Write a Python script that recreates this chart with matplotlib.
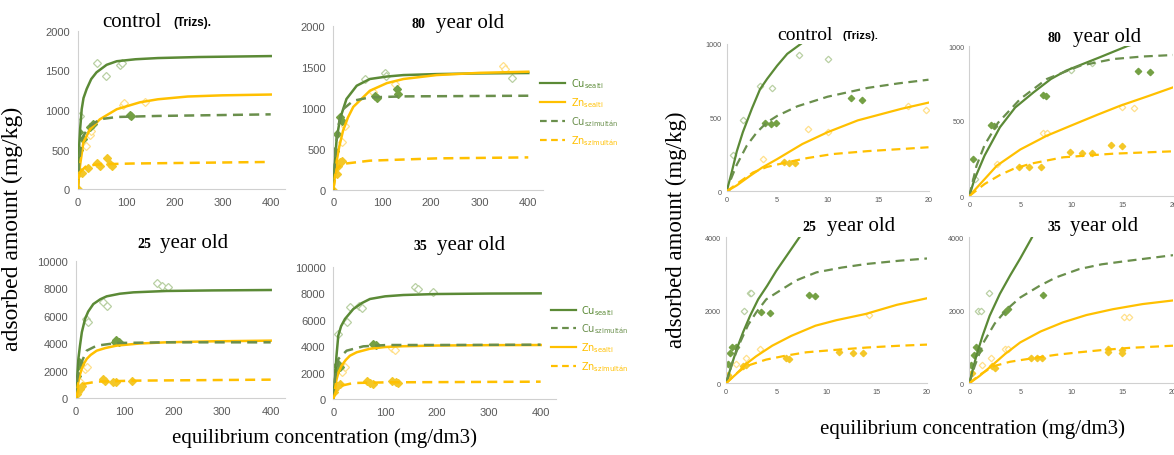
import matplotlib
matplotlib.use("Agg")
import matplotlib.pyplot as plt
from matplotlib.lines import Line2D

W, H = 1174, 456

# ---- left block (0-400 mg/dm3) ----
# control
Lctrl_cu_s = [(0,0),(1.5,300),(3.4,590),(5,760),(8.3,1010),(12,1150),(18.6,1265),(28,1390),(39,1475),(60,1570),(81,1615),(120,1640),(166,1655),(250,1668),(400,1680)]
Lctrl_cu_s_pts = [(4.5,925),(39,1590),(59,1425),(88,1565),(91,1590)]
Lctrl_zn_s = [(0,0),(4.8,298),(11.7,592),(25.5,757),(46,883),(81,1010),(129,1097),(166,1135),(228,1170),(300,1185),(400,1195)]
Lctrl_zn_s_pts = [(17,550),(25,680),(27,735),(93,1060),(96,1085),(140,1095)]
Lctrl_cu_m = [(0,0),(3.4,380),(8.3,634),(22,782),(46,883),(81,912),(166,925),(400,945)]
Lctrl_cu_m_pts = [(1,240),(3,500),(3.4,720),(11.7,630),(25,790),(32,820),(108,935),(110,920)]
Lctrl_zn_m = [(0,0),(3.4,210),(18.6,298),(46,315),(112,325),(400,345)]
Lctrl_zn_m_pts = [(0,0),(3.4,210),(8.3,210),(22,273),(39,336),(46,294),(60,400),(67,315),(71,294)]

# 80 year old
L80_cu_s = [(0,0),(3,300),(6.8,618),(13.7,862),(27,1106),(48,1268),(75,1350),(110,1380),(144,1398),(212,1410),(300,1418),(400,1423)]
L80_cu_s_pts = [(65,1350),(106,1423),(109,1390),(366,1358)]
L80_zn_s = [(0,0),(3,150),(7,350),(12,520),(20,720),(30,880),(41,1010),(75,1207),(110,1300),(144,1350),(212,1398),(300,1425),(400,1439)]
L80_zn_s_pts = [(17,577),(24,780),(82,1187),(126,1289),(349,1512),(352,1472)]
L80_cu_m = [(0,0),(4.8,496),(10,780),(20.5,984),(41,1085),(75,1126),(144,1138),(400,1146)]
L80_cu_m_pts = [(1.4,252),(3.4,476),(6.8,679),(13.7,882),(17,841),(85,1146),(89,1114),(130,1228),(133,1167)]
L80_zn_m = [(0,0),(6.8,252),(17,313),(75,354),(212,382),(400,394)]
L80_zn_m_pts = [(0,0),(3.4,293),(6.8,191),(10,293),(13.7,333),(17,354)]

# 25 year old
L25_cu_s = [(0,0),(1,600),(2.7,1650),(5,2900),(8.2,3830),(12,4800),(18.5,5760),(25,6300),(35.6,6850),(50,7200),(63,7410),(90,7600),(118,7700),(186,7800),(280,7840),(400,7870)]
L25_cu_s_pts = [(20.5,5760),(25,5520),(55,7020),(63,6730),(166,8380),(176,8180),(190,8060)]
L25_cu_m = [(0,0),(2.7,1404),(8.2,2373),(22,3462),(42.5,3826),(83.6,4019),(186,4068),(400,4068)]
L25_cu_m_pts = [(0,436),(2.7,1646),(4.8,2373),(6.8,2615),(8.2,2494),(80,4116),(83,4261),(89,4068)]
L25_zn_s = [(0,0),(2,500),(4.8,1160),(8,1700),(11.6,2130),(16,2500),(22,2860),(30,3150),(42.5,3460),(60,3650),(83.6,3830),(130,3980),(186,4070),(280,4140),(400,4190)]
L25_zn_s_pts = [(1.4,920),(4.8,436),(8.2,1162),(18.5,2131),(23,2252)]
L25_zn_m = [(0,0),(4.8,678),(15,1041),(42.5,1211),(118,1283),(400,1356)]
L25_zn_m_pts = [(1.4,315),(8.2,678),(11.6,920),(55,1404),(59.6,1235),(76.7,1211),(82,1162),(116,1283)]

# 35 year old
L35_cu_s = [(0,0),(1,500),(3.2,1510),(6,3200),(9.6,4790),(15,5500),(22.5,6050),(38.6,6800),(55,7250),(70.7,7560),(100,7760),(135,7860),(199,7935),(300,7970),(400,7985)]
L35_cu_s_pts = [(9.6,4912),(25.7,5793),(32,6927),(50,7000),(54.7,6851),(157.6,8438),(164,8312),(193,8110)]
L35_cu_m = [(0,0),(3.2,1511),(9.6,3023),(25.7,3652),(57.9,3980),(103,4081),(199,4081),(400,4106)]
L35_cu_m_pts = [(1.3,756),(3.2,2015),(6.4,2519),(9.6,2645),(12.9,2393),(77,4156),(82,4081)]
L35_zn_s = [(0,0),(3,700),(6.4,1510),(10,2000),(16,2520),(24,2950),(32,3270),(45,3530),(70.7,3800),(100,3930),(135,3990),(200,4040),(300,4070),(400,4080)]
L35_zn_s_pts = [(3.2,756),(16,2015),(22.5,2393),(112.5,3829),(119,3728)]
L35_zn_m = [(0,0),(6.4,756),(16,1008),(38.6,1209),(103,1259),(400,1310)]
L35_zn_m_pts = [(1.9,504),(6.4,1008),(12.9,1134),(64.3,1385),(70.7,1209),(77,1134),(112.5,1385),(121,1259),(125,1209)]

# ---- right block (0-20 mg/dm3, zoomed) ----
Rctrl_cu_s = [(0,0),(0.5,130),(1,270),(1.6,400),(2.5,560),(3.3,690),(4,760),(5,850),(6,930),(7.4,1000),(8,1040)]
Rctrl_cu_s_pts = [(0.65,245),(1.6,485),(3.3,714),(4.5,700),(7.2,925),(10,898)]
Rctrl_cu_m = [(0.4,80),(1,180),(2,310),(3,400),(4,467),(5,510),(7,575),(10,640),(14,700),(17,730),(20,755)]
Rctrl_cu_m_pts = [(3.8,463),(4.4,456),(4.9,463),(12.3,630),(13.4,615)]
Rctrl_zn_s = [(0,0),(1,40),(2.3,104),(3.5,160),(5,218),(7.5,320),(10,400),(13,480),(17.3,558),(20,600)]
Rctrl_zn_s_pts = [(3.6,218),(8.1,422),(10,400),(18,578),(19.8,551)]
Rctrl_zn_m = [(0,0),(1,50),(2.6,127),(4,165),(5.9,195),(8,225),(10.5,252),(14,272),(17.3,286),(20,298)]
Rctrl_zn_m_pts = [(0,0),(5.7,195),(6.2,190),(6.8,190)]

R80_cu_s = [(0,0),(0.5,110),(1.5,270),(3,458),(4.5,590),(6.3,691),(8,780),(9.5,836),(12.8,925),(15.5,1000),(16,1010)]
R80_cu_s_pts = [(0.55,111),(10,840),(12,890)]
R80_cu_m = [(0,0),(0.7,200),(1.5,340),(2.8,487),(5,647),(7.6,780),(10.9,869),(14.1,913),(17,930),(20,940)]
R80_cu_m_pts = [(0.36,247),(2.1,473),(2.4,469),(7.2,673),(7.5,669),(16.5,835),(17.7,824)]
R80_zn_s = [(0,0),(1,75),(2.7,202),(5,310),(7.6,402),(10,470),(12.5,540),(14.8,602),(17.5,665),(20,725)]
R80_zn_s_pts = [(2.7,215),(7.2,422),(7.6,420),(15,594),(16.1,589)]
R80_zn_m = [(0,0),(1.5,80),(3,140),(4.3,180),(6,215),(9.2,258),(12,272),(14.1,282),(17,290),(20,298)]
R80_zn_m_pts = [(4.9,193),(5.9,193),(7,193),(9.9,293),(11,289),(12,289),(13.9,338),(15,331)]

R25_cu_s = [(0,0),(0.5,450),(1.07,940),(1.7,1400),(2.4,1852),(3.2,2300),(4.1,2674),(5,3080),(6,3480),(7.3,4000),(7.6,4100)]
R25_cu_s_pts = [(1.8,1973),(2.4,2470),(2.5,2470)]
R25_cu_m = [(0,0),(0.25,210),(0.7,620),(1.4,1120),(2.2,1600),(3,1940),(4,2300),(5.6,2580),(7,2820),(9,3040),(11.5,3170),(14,3270),(17.3,3360),(20,3420)]
R25_cu_m_pts = [(0.23,520),(0.4,820),(0.57,1000),(1,1000),(3.5,1960),(4.4,1930),(8.3,2420),(8.9,2400)]
R25_zn_s = [(0,0),(1,250),(2,530),(3,740),(4.6,1030),(6.5,1300),(8.9,1578),(11,1730),(13.9,1900),(17,2150),(20,2330)]
R25_zn_s_pts = [(1,520),(2,690),(3.4,940),(14.2,1880)]
R25_zn_m = [(0,0),(1,260),(2,470),(4,650),(6,760),(8,850),(10.6,910),(14,980),(17.3,1030),(20,1060)]
R25_zn_m_pts = [(0.23,240),(1.7,480),(2,500),(6,680),(6.3,670),(11.2,850),(12.6,820),(13.6,820)]

R35_cu_s = [(0,0),(0.7,760),(1.3,1300),(2,1850),(3,2450),(4,2950),(5,3420),(6.1,3970),(6.3,4080)]
R35_cu_s_pts = [(0.85,1990),(1.1,1990),(1.9,2470)]
R35_cu_m = [(0,0),(0.5,450),(1.4,1120),(2.5,1640),(3.7,2030),(5,2350),(6.9,2670),(8.5,2900),(10.8,3130),(13,3260),(15.7,3360),(20,3510)]
R35_cu_m_pts = [(0.2,510),(0.5,780),(0.7,1000),(1,920),(3.5,1950),(3.8,2030),(7.2,2420)]
R35_zn_s = [(0,0),(1,200),(2.4,530),(3.5,800),(5,1120),(7,1420),(9.2,1670),(11.5,1870),(14.1,2030),(17,2170),(20,2270)]
R35_zn_s_pts = [(1.2,500),(2.1,700),(3.5,930),(3.8,930),(15.2,1830),(15.7,1830)]
R35_zn_m = [(0,0),(1,230),(2.4,470),(4,590),(6.3,690),(8.5,780),(10.8,850),(13,910),(15.7,970),(20,1030)]
R35_zn_m_pts = [(0,250),(0.3,280),(2.2,480),(2.5,420),(6.1,690),(6.6,690),(7.1,690),(13.6,870),(13.6,950),(15,830),(15,900)]

legend_top = ["Cu$_{\\rm sealti}$", "Zn$_{\\rm sealti}$", "Cu$_{\\rm szimultán}$", "Zn$_{\\rm szimultán}$"]
legend_bot = ["Cu$_{\\rm sealti}$", "Cu$_{\\rm szimultán}$", "Zn$_{\\rm sealti}$", "Zn$_{\\rm szimultán}$"]

CU = "#5b8a36"
CU_D = "#6a8f4c"
ZN = "#ffc000"
CU_OPEN = "#b9d0a3"
ZN_OPEN = "#ffe08a"
SERIF = "Liberation Serif"


def pos(x0, x1, ytop, ybot):
    return [x0 / W, 1 - ybot / H, (x1 - x0) / W, (ybot - ytop) / H]


def panel(rect, cu_s, cu_s_pts, zn_s, zn_s_pts, cu_m, cu_m_pts, zn_m, zn_m_pts,
          xmax, xticks, ymax, yticks, fs, lw, ms):
    ax = fig.add_axes(rect)
    # markers: open = single, filled = simultaneous
    for pts, col, fill in [(cu_s_pts, CU_OPEN, False), (zn_s_pts, ZN_OPEN, False),
                           (cu_m_pts, "#74a044", True), (zn_m_pts, "#f4c727", True)]:
        xs = [p[0] for p in pts]; ys = [p[1] for p in pts]
        ax.plot(xs, ys, "D", ms=ms, mec=col, mfc=col if fill else "white",
                mew=0.9, ls="none", zorder=2)
    for line, col, ls in [(cu_s, CU, "-"), (zn_s, ZN, "-"),
                          (cu_m, CU_D, (0, (4, 2.5))), (zn_m, ZN, (0, (4, 2.5)))]:
        ax.plot([p[0] for p in line], [p[1] for p in line], color=col, lw=lw, ls=ls, zorder=3)
    ax.set_xlim(0, xmax); ax.set_ylim(0, ymax)
    ax.set_xticks(xticks); ax.set_yticks(yticks)
    for s in ["top", "right"]:
        ax.spines[s].set_visible(False)
    for s in ["left", "bottom"]:
        ax.spines[s].set_color("#d0d0d0"); ax.spines[s].set_linewidth(0.8)
    ax.tick_params(length=0, labelsize=fs, colors="#595959", pad=fs * 0.7)
    for t in ax.get_xticklabels() + ax.get_yticklabels():
        t.set_fontfamily("Liberation Sans")
    return ax


fig = plt.figure(figsize=(W / 100, H / 100), dpi=100)

xl = [0, 100, 200, 300, 400]
panel(pos(77.7, 285.2, 31.7, 190.3), Lctrl_cu_s, Lctrl_cu_s_pts, Lctrl_zn_s, Lctrl_zn_s_pts,
      Lctrl_cu_m, Lctrl_cu_m_pts, Lctrl_zn_m, Lctrl_zn_m_pts, 430, xl, 2000, [0, 500, 1000, 1500, 2000], 8, 1.8, 3.6)
panel(pos(333.3, 542.9, 26.7, 190.7), L80_cu_s, L80_cu_s_pts, L80_zn_s, L80_zn_s_pts,
      L80_cu_m, L80_cu_m_pts, L80_zn_m, L80_zn_m_pts, 430, xl, 2000, [0, 500, 1000, 1500, 2000], 8, 1.8, 3.6)
panel(pos(76, 285.3, 261.7, 399.3), L25_cu_s, L25_cu_s_pts, L25_zn_s, L25_zn_s_pts,
      L25_cu_m, L25_cu_m_pts, L25_zn_m, L25_zn_m_pts, 430, xl, 10000, [0, 2000, 4000, 6000, 8000, 10000], 8, 1.8, 3.6)
panel(pos(333.3, 556.2, 267.7, 400), L35_cu_s, L35_cu_s_pts, L35_zn_s, L35_zn_s_pts,
      L35_cu_m, L35_cu_m_pts, L35_zn_m, L35_zn_m_pts, 430, xl, 10000, [0, 2000, 4000, 6000, 8000, 10000], 8, 1.8, 3.6)

xr = [0, 5, 10, 15, 20]
panel(pos(726.7, 928.5, 44.5, 192.3), Rctrl_cu_s, Rctrl_cu_s_pts, Rctrl_zn_s, Rctrl_zn_s_pts,
      Rctrl_cu_m, Rctrl_cu_m_pts, Rctrl_zn_m, Rctrl_zn_m_pts, 20, xr, 1000, [0, 500, 1000], 5.2, 1.6, 3.3)
panel(pos(969.3, 1173.3, 47, 197), R80_cu_s, R80_cu_s_pts, R80_zn_s, R80_zn_s_pts,
      R80_cu_m, R80_cu_m_pts, R80_zn_m, R80_zn_m_pts, 20, xr, 1000, [0, 500, 1000], 5.2, 1.6, 3.3)
panel(pos(726, 927, 238.3, 384.3), R25_cu_s, R25_cu_s_pts, R25_zn_s, R25_zn_s_pts,
      R25_cu_m, R25_cu_m_pts, R25_zn_m, R25_zn_m_pts, 20, xr, 4000, [0, 2000, 4000], 5.2, 1.6, 3.3)
panel(pos(969.3, 1173, 238.3, 384.3), R35_cu_s, R35_cu_s_pts, R35_zn_s, R35_zn_s_pts,
      R35_cu_m, R35_cu_m_pts, R35_zn_m, R35_zn_m_pts, 20, xr, 4000, [0, 2000, 4000], 5.2, 1.6, 3.3)


def title(xnum, xword, y, num, word, fnum, fword, bold_num=True):
    fig.text(xnum / W, 1 - y / H, num, family=SERIF, fontsize=fnum,
             weight="bold" if bold_num else "normal", va="baseline", ha="left")
    fig.text(xword / W, 1 - y / H, word, family=SERIF, fontsize=fword, va="baseline", ha="left")


# titles, left block
fig.text(102 / W, 1 - 27 / H, "control", family=SERIF, fontsize=15, va="baseline")
fig.text(173 / W, 1 - 26 / H, "(Trizs).", family="Liberation Sans", fontsize=8.5, weight="bold", va="baseline")
title(412, 436, 28, "80", "year old", 10, 15)
title(137, 160, 248, "25", "year old", 10, 15)
title(413, 437, 250, "35", "year old", 10, 15)
# titles, right block
fig.text(777 / W, 1 - 40 / H, "control", family=SERIF, fontsize=14, va="baseline")
fig.text(843 / W, 1 - 39 / H, "(Trizs).", family="Liberation Sans", fontsize=8, weight="bold", va="baseline")
title(1047, 1073, 42, "80", "year old", 10, 15)
title(802, 827, 231, "25", "year old", 10, 15)
title(1047, 1070, 231, "35", "year old", 10, 15)

# axis labels
fig.text(12 / W, 1 - 229 / H, "adsorbed amount (mg/kg)", family=SERIF, fontsize=17,
         rotation=90, ha="center", va="center")
fig.text(324 / W, 1 - 438 / H, "equilibrium concentration (mg/dm3)", family=SERIF, fontsize=15,
         ha="center", va="center")
fig.text(676 / W, 1 - 230 / H, "adsorbed amount (mg/kg)", family=SERIF, fontsize=16.5,
         rotation=90, ha="center", va="center")
fig.text(972 / W, 1 - 429 / H, "equilibrium concentration (mg/dm3)", family=SERIF, fontsize=15,
         ha="center", va="center")

# legends
dash = (0, (3, 2))
h_top = [Line2D([], [], color=CU, lw=1.6), Line2D([], [], color=ZN, lw=1.6),
         Line2D([], [], color=CU_D, lw=1.6, ls=dash), Line2D([], [], color=ZN, lw=1.6, ls=dash)]
h_bot = [Line2D([], [], color=CU, lw=1.6), Line2D([], [], color=CU_D, lw=1.6, ls=dash),
         Line2D([], [], color=ZN, lw=1.6), Line2D([], [], color=ZN, lw=1.6, ls=dash)]
fig.legend(h_top, legend_top, loc="upper left", bbox_to_anchor=(540 / W, 1 - 77 / H),
           frameon=False, fontsize=7, labelcolor="linecolor", handlelength=2.6,
           handletextpad=0.6, labelspacing=0.55, borderaxespad=0, borderpad=0)
fig.legend(h_bot, legend_bot, loc="upper left", bbox_to_anchor=(551 / W, 1 - 304 / H),
           frameon=False, fontsize=7, labelcolor="linecolor", handlelength=2.6,
           handletextpad=0.5, labelspacing=0.5, borderaxespad=0, borderpad=0)

fig.savefig("out.png", dpi=100)
